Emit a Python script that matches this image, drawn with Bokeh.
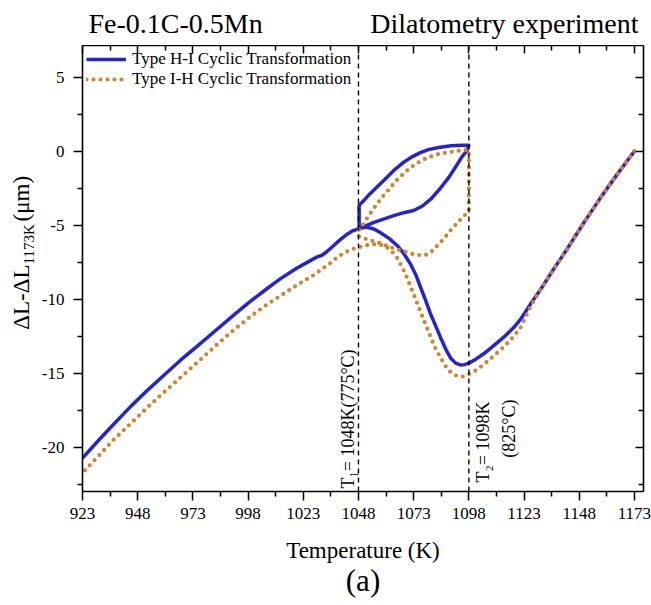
import math
from bokeh.plotting import figure
from bokeh.layouts import column, row
from bokeh.models import (Range1d, LinearAxis, FixedTicker, Span, Label, Legend, LegendItem, Title)
from bokeh.embed import file_html
from bokeh.resources import INLINE

# ---------------- data ----------------
x_ticks = [923, 948, 973, 998, 1023, 1048, 1073, 1098, 1123, 1148, 1173]
x_minor = [935.5, 960.5, 985.5, 1010.5, 1035.5, 1060.5, 1085.5, 1110.5, 1135.5, 1160.5]
y_ticks = [-20, -15, -10, -5, 0, 5]
y_tick_labels = ["-20", "-15", "-10", "-5", "0", "5"]
y_minor = [-22.5, -17.5, -12.5, -7.5, -2.5, 2.5]

# Type H-I (blue, solid): path starting at 1173 K
hi_T = [1173, 1165, 1157.6, 1150, 1142.5, 1136, 1130.4, 1126, 1123.6, 1121.4, 1118, 1113.8,
        1109, 1104.7, 1101, 1098, 1096, 1094.2, 1092, 1089.7, 1087.5, 1085.1, 1083, 1080.6,
        1078.5, 1076.1, 1074, 1071.5, 1068.5, 1065.5, 1062, 1058, 1055, 1051.5, 1048.3,
        1048.3, 1050, 1053, 1056.5, 1060, 1064, 1068, 1072, 1076, 1080, 1085, 1090, 1095, 1098,
        1097, 1095, 1092.7, 1089, 1085.1, 1081, 1077, 1073, 1068.5, 1064, 1060, 1055, 1051, 1048.3,
        1045, 1042.9, 1039.5, 1036.8, 1033.5, 1031.5, 1029, 1026, 1020, 1012.7, 1005, 997.6,
        990, 982.5, 975, 967.4, 960, 952.3, 945, 937.2, 930, 923]
hi_dL = [0, -1.6, -3.15, -4.85, -6.6, -8.05, -9.35, -10.3, -10.85, -11.35, -11.95, -12.55,
         -13.15, -13.67, -14.05, -14.3, -14.4, -14.42, -14.3, -13.95, -13.35, -12.55, -11.8, -10.97,
         -10.1, -9.18, -8.35, -7.6, -6.9, -6.36, -5.9, -5.5, -5.25, -5.12, -5.22,
         -3.65, -3.4, -2.9, -2.4, -1.9, -1.3, -0.8, -0.4, -0.1, 0.12, 0.27, 0.36, 0.4, 0.4,
         0.0, -0.35, -0.9, -1.75, -2.5, -3.2, -3.7, -4.0, -4.15, -4.35, -4.55, -4.8, -5.05, -5.22,
         -5.4, -5.6, -6.0, -6.36, -6.8, -7.02, -7.15, -7.4, -7.9, -8.6, -9.45, -10.3,
         -11.25, -12.2, -13.15, -14.1, -15.1, -16.15, -17.2, -18.4, -19.55, -20.7]

# Type I-H (orange, dotted): main path from 1173 K down to 923 K
ih_T = [1173, 1165, 1157.6, 1150, 1142.5, 1136, 1130.4, 1126, 1121.4, 1118, 1113.8, 1109,
        1104.7, 1101, 1098, 1095.5, 1093.4, 1091, 1088.9, 1087, 1085.1, 1083, 1081.4, 1079.8,
        1078.3, 1076.8, 1075.3, 1073.8, 1072.3, 1070.8, 1069.3, 1067.5, 1065.5, 1063.3, 1061,
        1058.5, 1055, 1051.5, 1048.9, 1045, 1041.3, 1038, 1035.3, 1031.5, 1027.8, 1020, 1012.7,
        1005, 997.6, 990, 982.5, 975, 967.4, 960, 952.3, 945, 937.2, 930, 923]
ih_dL = [0, -1.6, -3.15, -4.85, -6.6, -8.05, -9.35, -10.45, -11.9, -12.55, -13.2, -13.85,
         -14.4, -14.8, -15.05, -15.2, -15.22, -15.05, -14.8, -14.4, -13.9, -13.35, -12.8, -12.2,
         -11.65, -11.1, -10.53, -9.95, -9.4, -8.85, -8.3, -7.75, -7.2, -6.8, -6.5,
         -6.33, -6.28, -6.35, -6.45, -6.62, -6.88, -7.2, -7.55, -7.95, -8.35, -9.05, -9.75,
         -10.5, -11.33, -12.25, -13.24, -14.25, -15.27, -16.25, -17.3, -18.35, -19.45, -20.6, -21.7]

# Type I-H cyclic loop between T1 and T2
ih_loop_T = [1048.3, 1051, 1054.9, 1058.5, 1062.5, 1066, 1070, 1073.5, 1076.8, 1079.5, 1082,
             1084.5, 1087, 1090, 1093, 1096, 1098, 1098, 1094, 1090, 1085.1, 1081, 1077.6, 1074,
             1070, 1066, 1062.5, 1059, 1055, 1052, 1050, 1048.3, 1048.3]
ih_loop_dL = [-5.75, -5.9, -6.07, -6.25, -6.48, -6.65, -6.82, -6.97, -7.04, -6.95, -6.65,
              -6.25, -5.85, -5.3, -4.8, -4.35, -4.0, 0.1, 0.05, -0.05, -0.15, -0.35, -0.55, -0.85,
              -1.3, -1.85, -2.45, -3.05, -3.85, -4.5, -4.95, -5.2, -5.75]

T1, T2 = 1048, 1098

BLUE = "#2323d2"
ORANGE = "#d4832c"
FONT = "Liberation Serif"

# page geometry
PAGE_W, PAGE_H = 651, 605
TOP_H = 45          # strip with the two headings
LEFT_W = 36         # strip with the y-axis label
FRAME_L, FRAME_R, FRAME_T, FRAME_B = 82, 643, 45, 491

X0, X1 = 923, 1177.1
Y0, Y1 = -22.96, 7.13


def helper_fig(w, h, xr, yr):
    f = figure(width=w, height=h, output_backend="svg", toolbar_location=None, title=None,
               x_range=Range1d(*xr), y_range=Range1d(*yr), min_border=0,
               x_axis_location=None, y_axis_location=None)
    f.grid.visible = False
    f.outline_line_color = None
    return f

# ---------------- heading strip ----------------
top = helper_fig(PAGE_W, TOP_H, (0, PAGE_W), (TOP_H, 0))
top.add_layout(Label(x=88, y=22.5, text="Fe-0.1C-0.5Mn", text_font=FONT, text_color="black",
                     text_font_size="28px", text_align="left", text_baseline="middle"))
top.add_layout(Label(x=638, y=22.5, text="Dilatometry experiment", text_font=FONT, text_color="black",
                     text_font_size="28px", text_align="right", text_baseline="middle"))

# ---------------- y-label strip ----------------
# (in a row, its frame is aligned with the chart frame: page y 45..491)
MAIN_H = PAGE_H - TOP_H
SUB_START = 264
yl_fig = helper_fig(LEFT_W, MAIN_H, (0, LEFT_W), (FRAME_B, FRAME_T))
yl_fig.add_layout(Label(x=21, y=SUB_START, text="ΔL-ΔL", text_font=FONT, text_font_size="23px",
                        text_color="black", angle=math.pi / 2, text_align="right",
                        text_baseline="middle"))
yl_fig.add_layout(Label(x=28.5, y=SUB_START, text="1173K", text_font=FONT, text_font_size="15px",
                        text_color="black", angle=math.pi / 2, text_align="left",
                        text_baseline="middle"))
yl_fig.add_layout(Label(x=21, y=SUB_START - 43, text="(μm)", text_font=FONT, text_font_size="23px",
                        text_color="black", angle=math.pi / 2, text_align="left",
                        text_baseline="middle"))

# ---------------- main chart ----------------
MAIN_W = PAGE_W - LEFT_W
p = figure(width=MAIN_W, height=MAIN_H, output_backend="svg", toolbar_location=None, title=None,
           x_range=Range1d(X0, X1), y_range=Range1d(Y0, Y1),
           min_border_left=FRAME_L - LEFT_W, min_border_right=PAGE_W - FRAME_R,
           min_border_top=FRAME_T - TOP_H, min_border_bottom=PAGE_H - FRAME_B,
           x_axis_location=None, y_axis_location=None)
p.grid.visible = False
p.outline_line_color = None


def px2x(px):
    return X0 + (px - FRAME_L) * (X1 - X0) / (FRAME_R - FRAME_L)


def py2y(py):
    return Y1 - (py - FRAME_T) * (Y1 - Y0) / (FRAME_B - FRAME_T)


xb = LinearAxis(axis_label="Temperature (K)")
yl = LinearAxis()
xt = LinearAxis()
yr = LinearAxis()
p.add_layout(xb, "below")
p.add_layout(yl, "left")
p.add_layout(xt, "above")
p.add_layout(yr, "right")

for ax, d, inside, lab in ((xb, 0, False, True), (xt, 0, True, False),
                           (yl, 1, False, True), (yr, 1, True, False)):
    ticks = x_ticks if d == 0 else y_ticks
    ax.ticker = FixedTicker(ticks=ticks, minor_ticks=x_minor if d == 0 else y_minor)
    ax.axis_line_color = "black"
    ax.axis_line_width = 1.6
    ax.major_tick_line_color = "black"
    ax.minor_tick_line_color = "black"
    ax.major_tick_line_width = 1.5
    ax.minor_tick_line_width = 1.5
    if inside:
        ax.major_tick_in, ax.major_tick_out = 8, 0
        ax.minor_tick_in, ax.minor_tick_out = 5, 0
    else:
        ax.major_tick_in, ax.major_tick_out = 0, 9
        ax.minor_tick_in, ax.minor_tick_out = 0, 5
    if lab:
        ax.major_label_text_font = FONT
        ax.major_label_text_font_size = "17px"
        ax.major_label_text_color = "black"
    else:
        ax.major_label_overrides = {t: "" for t in ticks}
        ax.major_label_text_font_size = "0px"
        ax.major_label_standoff = 0

yl.major_label_overrides = dict(zip(y_ticks, y_tick_labels))
yl.major_label_standoff = 9
xb.major_label_standoff = 7

xb.axis_label_text_font = FONT
xb.axis_label_text_font_size = "23px"
xb.axis_label_text_font_style = "normal"
xb.axis_label_text_color = "black"
xb.axis_label_standoff = 16

p.add_layout(Title(text="(a)", align="center", text_font=FONT, text_font_size="31px",
                   text_font_style="normal", text_color="black", standoff=-9), "below")

# dashed lines at T1 and T2
for t in (T1, T2):
    p.add_layout(Span(location=t, dimension="height", line_color="black",
                      line_width=1.4, line_dash="5 4"))

# curves
r_hi = p.line(hi_T, hi_dL, line_color=BLUE, line_width=3.5, line_join="round")
r_ih = p.line(ih_T, ih_dL, line_color=ORANGE, line_width=4.2, line_dash="0 7", line_cap="round")
p.line(ih_loop_T, ih_loop_dL, line_color=ORANGE, line_width=4.2, line_dash="0 7", line_cap="round")

legend = Legend(items=[LegendItem(label="Type H-I Cyclic Transformation", renderers=[r_hi]),
                       LegendItem(label="Type I-H Cyclic Transformation", renderers=[r_ih])],
                location="top_left", margin=0, padding=4, spacing=0,
                glyph_width=40, glyph_height=20, label_height=20, label_standoff=6,
                label_text_font=FONT, label_text_font_size="17px", label_text_color="black",
                background_fill_alpha=0, border_line_alpha=0)
p.add_layout(legend)

# T1 / T2 annotations
p.add_layout(Label(x=px2x(347), y=py2y(488), text="T₁= 1048K(775°C)", text_font=FONT,
                   text_color="black", text_font_size="18px", angle=math.pi / 2,
                   text_align="left", text_baseline="middle"))
p.add_layout(Label(x=px2x(482), y=py2y(401), text="T₂= 1098K", text_font=FONT,
                   text_color="black", text_font_size="18px", angle=math.pi / 2,
                   text_align="right", text_baseline="middle"))
p.add_layout(Label(x=px2x(508), y=py2y(399), text="(825°C)", text_font=FONT,
                   text_color="black", text_font_size="18px", angle=math.pi / 2,
                   text_align="right", text_baseline="middle"))

layout = column(top, row(yl_fig, p))
open("out.html", "w").write(file_html(layout, INLINE))
